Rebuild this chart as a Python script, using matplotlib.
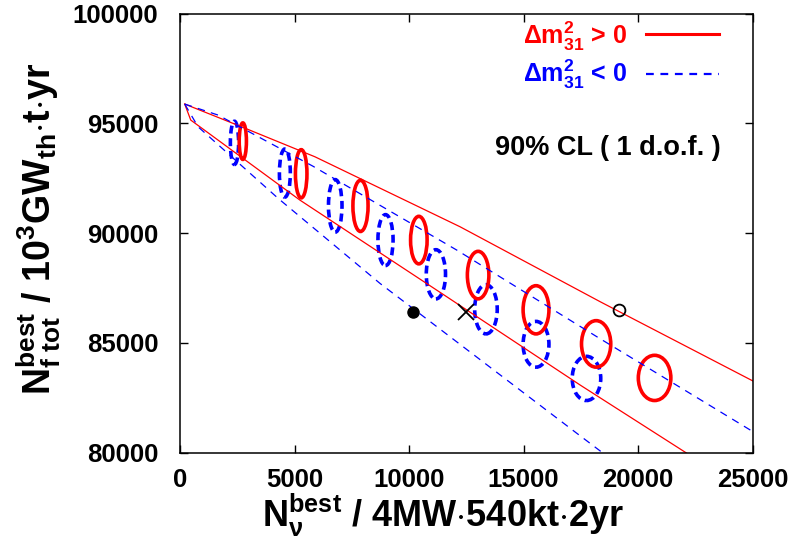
import numpy as np
import matplotlib
matplotlib.use("Agg")
import matplotlib.pyplot as plt
from matplotlib.patches import Ellipse
from matplotlib.ticker import MultipleLocator

plt.rcParams["font.family"] = ["Liberation Sans", "DejaVu Sans"]
plt.rcParams["font.weight"] = "bold"
plt.rcParams["mathtext.fontset"] = "custom"
plt.rcParams["mathtext.rm"] = "Liberation Sans:bold"
plt.rcParams["mathtext.bf"] = "Liberation Sans:bold"
plt.rcParams["mathtext.it"] = "Liberation Sans:bold"

# Boundary curves
red_upper_x = [205, 2685, 5890, 12230, 18352, 25028]
red_upper_y = [95880, 94845, 93478, 90287, 86869, 83254]
red_lower_x = [205, 468, 5234, 11355, 17477, 22142]
red_lower_y = [95880, 95150, 91504, 87300, 83072, 79959]
blue_upper_x = [205, 1662, 5800, 12085, 18207, 25028]
blue_upper_y = [95880, 95378, 93050, 89225, 85273, 80944]
blue_lower_x = [205, 787, 4285, 8732, 17333, 18500]
blue_lower_y = [95880, 94845, 91582, 87707, 80871, 79950]

# 90% CL ellipses (centre, full width, full height)
red_cx = [2742, 5291, 7880, 10428, 13017, 15545, 18170, 20722]
red_cy = [94189, 92703, 91240, 89681, 88086, 86504, 84950, 83400]
red_w = [315, 503, 661, 722, 940, 1128, 1277, 1421]
red_h = [1664, 2197, 2333, 2165, 2165, 2197, 2119, 2060]
blue_cx = [2378, 4578, 6778, 8973, 11173, 13359, 15545, 17748]
blue_cy = [94111, 92735, 91240, 89681, 88122, 86527, 84932, 83377]
blue_w = [359, 477, 591, 661, 840, 984, 1128, 1246]
blue_h = [1969, 2192, 2393, 2320, 2242, 2242, 2087, 2014]

# Single points
dot_xy = (10188, 86400)
cross_xy = (12492, 86400)
open_xy = (19183, 86490)

fig = plt.figure(figsize=(7.92, 5.46), dpi=100)
ax = fig.add_axes([0.2273, 0.1712, 0.7229, 0.8038])

ax.plot(red_upper_x, red_upper_y, color="red", lw=0.9)
ax.plot(red_lower_x, red_lower_y, color="red", lw=0.9)
ax.plot(blue_upper_x, blue_upper_y, color="blue", lw=0.9, linestyle=(0, (6, 5)))
ax.plot(blue_lower_x, blue_lower_y, color="blue", lw=0.9, linestyle=(0, (6, 5)))

for x, y, w, h in zip(blue_cx, blue_cy, blue_w, blue_h):
    ax.add_patch(Ellipse((x, y), w, h, fill=False, edgecolor="blue", lw=2.6,
                         linestyle=(0, (2.2, 1.3))))
for x, y, w, h in zip(red_cx, red_cy, red_w, red_h):
    ax.add_patch(Ellipse((x, y), w, h, fill=False, edgecolor="red", lw=2.6))

ax.plot(*dot_xy, "o", color="black", ms=8)
ax.plot(*cross_xy, "x", color="black", ms=11.5, mew=1.3)
ax.plot(*open_xy, "o", mfc="none", mec="black", ms=8.5, mew=1.3)

ax.set_xlim(0, 25000)
ax.set_ylim(80000, 100000)
ax.xaxis.set_major_locator(MultipleLocator(5000))
ax.yaxis.set_major_locator(MultipleLocator(5000))
ax.tick_params(direction="in", top=True, right=True, length=5.5, width=1,
               labelsize=18.5)
ax.tick_params(axis="x", pad=11)
ax.tick_params(axis="y", pad=15.5)
for lab in ax.get_xticklabels() + ax.get_yticklabels():
    lab.set_fontweight("bold")
for sp in ax.spines.values():
    sp.set_linewidth(1.1)

ax.set_xlabel(r"N$_{\nu}^{best}$ / 4MW$\cdot$540kt$\cdot$2yr", fontsize=26,
              fontweight="bold")
ax.xaxis.set_label_coords(0.459, -0.089)
ax.set_ylabel(r"N$_{f\ tot}^{best}$ / 10$^3$GW$_{th}$$\cdot$t$\cdot$yr", fontsize=27,
              fontweight="bold")
ax.yaxis.set_label_coords(-0.205, 0.509)

# Legend drawn by hand: text right-aligned, line sample to its right
leg_labels = [r"$\Delta$m$_{31}^{2}$ > 0", r"$\Delta$m$_{31}^{2}$ < 0"]
leg_colors = ["red", "blue"]
leg_styles = ["-", (0, (3.5, 3))]
leg_lw = [2.2, 1.6]
leg_text_y = [0.9307, 0.8448]
leg_line_y = [0.9535, 0.8636]
for lab, c, ls, lw, ty, ly in zip(leg_labels, leg_colors, leg_styles, leg_lw,
                                  leg_text_y, leg_line_y):
    ax.text(0.7807, ty, lab, transform=ax.transAxes, ha="right", va="baseline",
            color=c, fontsize=18, fontweight="bold")
    ax.plot([0.8133, 0.9420], [ly, ly], transform=ax.transAxes, color=c, lw=lw,
            linestyle=ls, clip_on=False)

ax.text(0.7466, 0.695, "90% CL ( 1 d.o.f. )", transform=ax.transAxes, ha="center",
        va="center", fontsize=19.5, fontweight="bold")

fig.savefig("out.png", dpi=100)
